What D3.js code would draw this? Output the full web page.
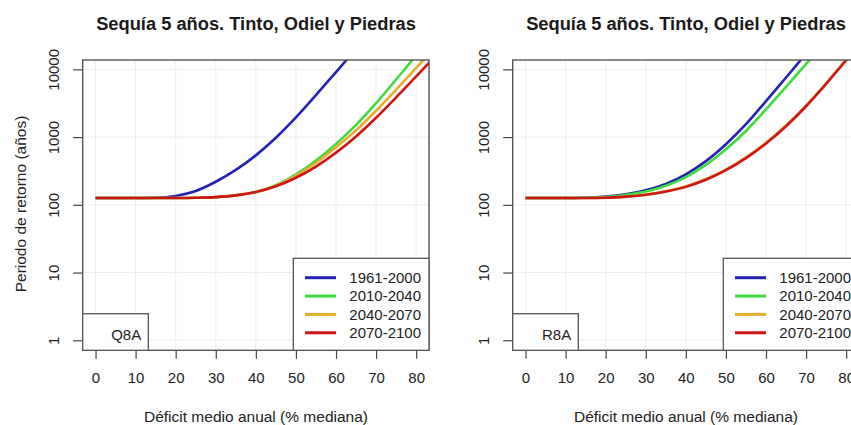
<!DOCTYPE html>
<html>
<head>
<meta charset="utf-8">
<script src="https://cdn.jsdelivr.net/npm/d3@7"></script>
<style>
  body { margin: 0; background: #fff; }
  svg { display: block; font-family: "Liberation Sans", Arial, sans-serif; }
</style>
</head>
<body>
<div id="chart"></div>
<script>
// Deficit (% of median) at which each curve is sampled
const deficit = [0, 5, 10, 15, 20, 25, 30, 35, 40, 45, 50, 55, 60, 65, 70, 75, 80, 85];

// Return period (years), station Q8A
const q8a1961 = [126, 126, 126, 127, 135, 160, 219, 327, 537, 977, 1950, 4169, 9120, 19953];
const q8a2010 = [126, 126, 126, 126, 126, 127, 130, 138, 155, 195, 282, 452, 794, 1514, 3162, 7079, 15849, 31623];
const q8a2040 = [126, 126, 126, 126, 126, 127, 130, 138, 155, 191, 269, 417, 708, 1259, 2455, 5012, 10471, 22387];
const q8a2070 = [126, 126, 126, 126, 126, 127, 130, 138, 155, 188, 251, 367, 589, 1023, 1928, 3846, 7852, 16218];

// Return period (years), station R8A
const r8a1961 = [126, 126, 126, 127, 132, 143, 164, 204, 282, 442, 785, 1549, 3388, 7586, 16982, 38019];
const r8a2010 = [126, 126, 126, 127, 130, 140, 157, 191, 257, 389, 661, 1230, 2570, 5495, 12023, 26303];
const r8a2040 = [126, 126, 126, 126, 127, 132, 141, 158, 188, 240, 331, 501, 822, 1479, 2917, 6237, 13964, 31623];
const r8a2070 = [126, 126, 126, 126, 127, 132, 141, 157, 184, 234, 324, 490, 804, 1445, 2851, 6095, 13646, 30903];

const periods = ['1961-2000', '2010-2040', '2040-2070', '2070-2100'];
const colors = ['#2323b4', '#3fdc3f', '#e6ac2c', '#cc1616'];

const xTicks = [0, 10, 20, 30, 40, 50, 60, 70, 80];
const yTicks = [1, 10, 100, 1000, 10000];

const titleText = 'Sequía 5 años. Tinto, Odiel y Piedras';
const xLabel = 'Déficit medio anual (% mediana)';
const yLabel = 'Periodo de retorno (años)';

const svg = d3.select('#chart').append('svg')
    .attr('width', 851)
    .attr('height', 425);

svg.append('rect').attr('width', 851).attr('height', 425).attr('fill', '#fff');

function drawPanel(offset, series, station, showYLabel) {
    const left = offset + 82.7, right = offset + 429, top = 60, bottom = 350.3;

    const x = d3.scaleLinear().domain([-3.2, 83.2]).range([left, right]);
    const y = d3.scaleLog().domain([Math.pow(10, -0.148), Math.pow(10, 4.138)]).range([bottom, top]);

    const g = svg.append('g');

    // light grid
    g.selectAll('.vgrid').data(xTicks).enter().append('line')
        .attr('x1', d => x(d)).attr('x2', d => x(d))
        .attr('y1', top).attr('y2', bottom)
        .attr('stroke', '#ededed').attr('stroke-width', 1);
    g.selectAll('.hgrid').data(yTicks).enter().append('line')
        .attr('x1', left).attr('x2', right)
        .attr('y1', d => y(d)).attr('y2', d => y(d))
        .attr('stroke', '#ededed').attr('stroke-width', 1);

    // clip curves to the plot box
    const clipId = 'clip-' + station;
    svg.append('clipPath').attr('id', clipId)
        .append('rect').attr('x', left).attr('y', top)
        .attr('width', right - left).attr('height', bottom - top);

    const line = d3.line()
        .x((d, i) => x(deficit[i]))
        .y(d => y(d))
        .curve(d3.curveMonotoneX);

    g.append('g').attr('clip-path', 'url(#' + clipId + ')')
        .selectAll('path').data(series).enter().append('path')
        .attr('d', d => line(d))
        .attr('fill', 'none')
        .attr('stroke', (d, i) => colors[i])
        .attr('stroke-width', 2.6)
        .attr('stroke-linejoin', 'round');

    // axes
    const xAxis = g.append('g')
        .attr('transform', 'translate(0,' + bottom + ')')
        .call(d3.axisBottom(x).tickValues(xTicks).tickSize(8.5).tickPadding(14).tickFormat(d3.format('d')));
    xAxis.select('.domain').remove();
    xAxis.selectAll('line').attr('stroke', '#444').attr('stroke-width', 1.2);
    xAxis.selectAll('text').attr('font-size', '15px').attr('fill', '#222');

    const yAxis = g.append('g')
        .attr('transform', 'translate(' + left + ',0)')
        .call(d3.axisLeft(y).tickValues(yTicks).tickSize(9.5).tickFormat(d3.format('d')));
    yAxis.select('.domain').remove();
    yAxis.selectAll('line').attr('stroke', '#444').attr('stroke-width', 1.2);
    yAxis.selectAll('text')
        .attr('transform', 'rotate(-90)')
        .attr('x', 0).attr('y', -23.7).attr('dy', 0)
        .attr('text-anchor', 'middle')
        .attr('font-size', '15px').attr('fill', '#222');

    // box
    g.append('rect')
        .attr('x', left).attr('y', top)
        .attr('width', right - left).attr('height', bottom - top)
        .attr('fill', 'none').attr('stroke', '#555').attr('stroke-width', 1.4);

    // station label box
    g.append('rect')
        .attr('x', left).attr('y', 313.7)
        .attr('width', 65.6).attr('height', bottom - 313.7)
        .attr('fill', '#fff').attr('stroke', '#555').attr('stroke-width', 1.3);
    g.append('text')
        .attr('x', left + 58.5).attr('y', 339.7)
        .attr('text-anchor', 'end')
        .attr('font-size', '15px').attr('fill', '#222')
        .text(station);

    // legend
    const lx = offset + 293.3, ly = 258.3;
    g.append('rect')
        .attr('x', lx).attr('y', ly)
        .attr('width', right - lx).attr('height', bottom - ly)
        .attr('fill', '#fff').attr('stroke', '#555').attr('stroke-width', 1.3);
    const items = g.selectAll('.leg').data(periods).enter().append('g')
        .attr('transform', (d, i) => 'translate(0,' + (ly + 19.4 + i * 18.35) + ')');
    items.append('line')
        .attr('x1', offset + 305).attr('x2', offset + 336)
        .attr('stroke', (d, i) => colors[i]).attr('stroke-width', 3);
    items.append('text')
        .attr('x', offset + 349.3).attr('y', 5.4)
        .attr('font-size', '15px').attr('fill', '#222')
        .text(d => d);

    // titles
    g.append('text')
        .attr('x', offset + 256).attr('y', 29.5)
        .attr('text-anchor', 'middle')
        .attr('font-size', '18.3px').attr('font-weight', 'bold').attr('fill', '#1a1a1a')
        .text(titleText);
    g.append('text')
        .attr('x', offset + 256).attr('y', 421.5)
        .attr('text-anchor', 'middle')
        .attr('font-size', '15.5px').attr('fill', '#222')
        .text(xLabel);
    if (showYLabel) {
        g.append('text')
            .attr('transform', 'translate(25.5,204) rotate(-90)')
            .attr('text-anchor', 'middle')
            .attr('font-size', '15.5px').attr('fill', '#222')
            .text(yLabel);
    }
}

drawPanel(0, [q8a1961, q8a2010, q8a2040, q8a2070], 'Q8A', true);
drawPanel(430, [r8a1961, r8a2010, r8a2040, r8a2070], 'R8A', false);
</script>
</body>
</html>
